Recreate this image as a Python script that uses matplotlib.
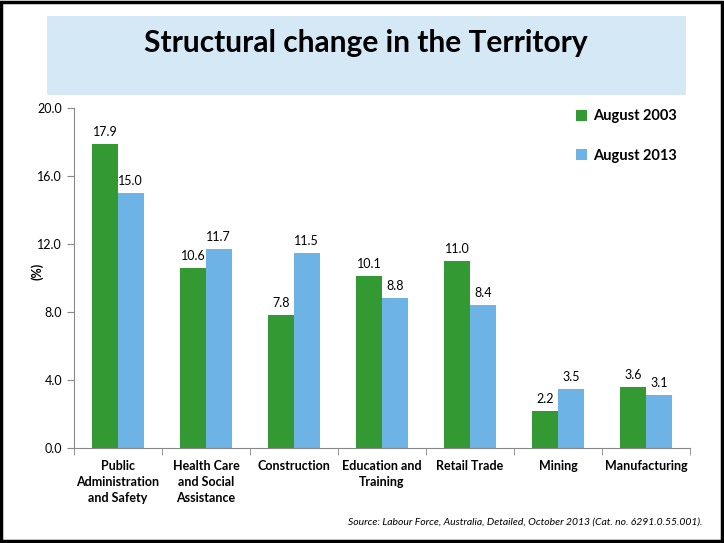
import matplotlib.pyplot as plt
from matplotlib.patches import Rectangle
import numpy as np

plt.rcParams["font.family"] = ["Lato", "DejaVu Sans"]

categories = [
    "Public\nAdministration\nand Safety",
    "Health Care\nand Social\nAssistance",
    "Construction",
    "Education and\nTraining",
    "Retail Trade",
    "Mining",
    "Manufacturing",
]
aug_2003 = [17.9, 10.6, 7.8, 10.1, 11.0, 2.2, 3.6]
aug_2013 = [15.0, 11.7, 11.5, 8.8, 8.4, 3.5, 3.1]
y_ticks = [0.0, 4.0, 8.0, 12.0, 16.0, 20.0]

GREEN = "#339933"
BLUE = "#6DB3E6"

fig = plt.figure(figsize=(7.24, 5.43), dpi=100)

# outer frame
fig.patches.append(Rectangle((0.002, 0.003), 0.995, 0.994, transform=fig.transFigure,
                             fill=False, edgecolor="black", linewidth=2.5))
# title box
fig.patches.append(Rectangle((47 / 724, 1 - 95 / 543), 639 / 724, 79 / 543,
                             transform=fig.transFigure, facecolor="#D5E8F6",
                             edgecolor="none"))
fig.text(366 / 724, 1 - 43 / 543, "Structural change in the Territory",
         ha="center", va="center", fontsize=21.5, fontweight="bold")

ax = fig.add_axes([74 / 724, 1 - 448 / 543, 616 / 724, 340 / 543])
x = np.arange(len(categories))
w = 0.29
b1 = ax.bar(x - w / 2, aug_2003, w, color=GREEN, label="August 2003")
b2 = ax.bar(x + w / 2, aug_2013, w, color=BLUE, label="August 2013")

for bars in (b1, b2):
    for r in bars:
        ax.text(r.get_x() + r.get_width() / 2, r.get_height() + 0.35,
                f"{r.get_height():.1f}", ha="center", va="bottom", fontsize=9)

ax.set_xlim(-0.5, len(categories) - 0.5)
ax.set_ylim(0, 20)
ax.set_yticks(y_ticks)
ax.set_yticklabels([f"{v:.1f}" for v in y_ticks], fontsize=9)
ax.set_xticks(x)
ax.set_xticklabels(categories, fontsize=9, fontweight="bold", linespacing=1.35)
ax.tick_params(axis="x", length=0, pad=9)
ax.set_xticks(np.arange(-0.5, len(categories), 1), minor=True)
ax.tick_params(axis="x", which="minor", length=5, color="#888888")
ax.tick_params(axis="y", length=5, color="#888888")
ax.set_ylabel("(%)", fontsize=9, fontweight="bold")
ax.yaxis.set_label_coords(-0.05, 0.52)

for s in ("top", "right"):
    ax.spines[s].set_visible(False)
for s in ("left", "bottom"):
    ax.spines[s].set_color("#888888")

ax.legend(loc="upper right", bbox_to_anchor=(1.0, 1.035), frameon=False,
          prop={"weight": "bold", "size": 10.5}, handlelength=0.8,
          handleheight=0.8, labelspacing=1.75, handletextpad=0.4)

fig.text(702 / 724, 1 - 522 / 543,
         "Source: Labour Force, Australia, Detailed, October 2013 (Cat. no. 6291.0.55.001).",
         ha="right", va="center", fontsize=7.5, style="italic")

fig.savefig("out.png", dpi=100)
